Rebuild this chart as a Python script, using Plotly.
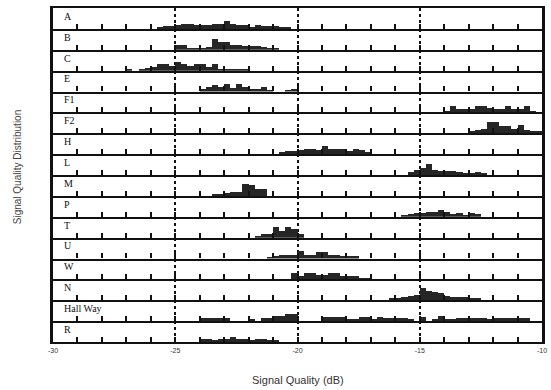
import plotly.graph_objects as go
from plotly.subplots import make_subplots

# ---------------- data ----------------
ROW_LABELS = ["A", "B", "C", "E", "F1", "F2", "H", "L", "M", "P",
              "T", "U", "W", "N", "Hall Way", "R"]
BIN_WIDTH = 0.25  # dB
X_TICKS = [-30, -25, -20, -15, -10]
X_TICK_TEXT = ["-30", "-25", "-20", "-15", "-10"]

# first bin edge (dB) for each row
BIN_START = [-25.75, -25.0, -27.0, -24.0, -14.0, -13.0, -20.75, -15.5,
             -23.5, -15.75, -21.75, -21.25, -20.25, -16.25, -24.0, -24.0]

A_COUNTS = [1, 2, 2, 3, 4, 4, 3, 3, 3, 4, 4, 6, 4, 3, 3, 1, 3, 2, 2, 2, 1, 1]
B_COUNTS = [4, 4, 1, 1, 1, 2, 8, 6, 6, 4, 4, 3, 3, 3, 2, 1, 1]
C_COUNTS = [1, 0, 1, 2, 3, 5, 5, 4, 7, 5, 4, 5, 5, 3, 5, 1, 1, 1, 1, 1]
E_COUNTS = [2, 4, 5, 4, 6, 3, 6, 4, 2, 2, 4, 1, 0, 0, 1, 2]
F1_COUNTS = [1, 5, 3, 3, 3, 5, 5, 4, 3, 3, 5, 3, 3, 5, 1]
F2_COUNTS = [1, 2, 3, 8, 8, 5, 5, 3, 6, 2, 1, 1]
H_COUNTS = [1, 2, 2, 3, 4, 4, 3, 6, 4, 4, 4, 2, 4, 3, 1]
L_COUNTS = [2, 4, 5, 8, 4, 3, 3, 3, 2, 1, 1, 2, 1]
M_COUNTS = [1, 1, 2, 3, 3, 9, 8, 5, 5]
P_COUNTS = [1, 2, 3, 3, 4, 4, 5, 4, 2, 3, 1, 3, 2]
T_COUNTS = [1, 3, 3, 8, 5, 8, 7, 3]
U_COUNTS = [1, 2, 3, 3, 3, 6, 3, 3, 5, 5, 3, 3, 2, 2, 2]
W_COUNTS = [5, 3, 5, 5, 4, 4, 5, 5, 3, 3, 3, 1, 1]
N_COUNTS = [1, 1, 2, 3, 4, 9, 7, 6, 5, 3, 2, 2, 2, 1, 1]
HALLWAY_COUNTS = [2, 2, 2, 2, 2, 0, 0, 0, 1, 0, 2, 2, 4, 4, 5, 5,
                  0, 0, 0, 0, 3, 3, 3, 3, 1, 1, 3, 3, 1, 3, 2, 2,
                  2, 2, 1, 0, 3, 0, 1, 4, 1, 1, 2, 2, 2, 2, 2, 1,
                  2, 2, 2, 2, 2, 2]
R_COUNTS = [2, 2, 1, 2, 2, 4, 2, 2, 1, 2, 2, 1, 1]

ROW_COUNTS = [A_COUNTS, B_COUNTS, C_COUNTS, E_COUNTS, F1_COUNTS, F2_COUNTS,
              H_COUNTS, L_COUNTS, M_COUNTS, P_COUNTS, T_COUNTS, U_COUNTS,
              W_COUNTS, N_COUNTS, HALLWAY_COUNTS, R_COUNTS]

# ---------------- figure ----------------
INK = "#111111"
BAR_COLOR = "#262626"
n_rows = len(ROW_LABELS)

fig = make_subplots(rows=n_rows, cols=1, shared_xaxes=True, vertical_spacing=0)

for i, (label, start, counts) in enumerate(zip(ROW_LABELS, BIN_START, ROW_COUNTS)):
    xs = [start + BIN_WIDTH * (k + 0.5) for k in range(len(counts))]
    fig.add_trace(
        go.Bar(x=xs, y=counts, width=BIN_WIDTH,
               marker=dict(color=BAR_COLOR, line=dict(width=0)),
               showlegend=False, hoverinfo="skip"),
        row=i + 1, col=1)
    suffix = "" if i == 0 else str(i + 1)
    fig.add_annotation(
        text=label, xref=f"x{suffix} domain", yref=f"y{suffix} domain",
        x=0.018, y=0.6, xanchor="left", yanchor="middle", showarrow=False,
        font=dict(family="Liberation Serif", size=10, color=INK))

fig.update_xaxes(
    range=[-30, -10], tickmode="array", tickvals=X_TICKS, ticktext=X_TICK_TEXT,
    showgrid=True, gridcolor=INK, griddash="dot", gridwidth=2,
    showline=True, linecolor=INK, linewidth=2.2, mirror=False,
    ticks="inside", ticklen=5, tickwidth=2, tickcolor=INK,
    minor=dict(dtick=1, tick0=-30, ticks="inside", ticklen=5, tickwidth=2,
               tickcolor=INK, showgrid=False),
    showticklabels=False, zeroline=False, fixedrange=True)
fig.update_xaxes(mirror=True, row=1, col=1)
fig.update_xaxes(showticklabels=True,
                 tickfont=dict(family="Liberation Sans", size=7, color="#333"),
                 row=n_rows, col=1)
fig.update_yaxes(
    range=[0, 16], showticklabels=False, showgrid=False, zeroline=False,
    showline=True, linecolor=INK, linewidth=2.5, mirror=True, ticks="",
    fixedrange=True)

fig.add_annotation(text="Signal Quality (dB)", xref="paper", yref="paper",
                   x=0.5, y=-0.114, xanchor="center", yanchor="middle",
                   showarrow=False,
                   font=dict(family="Liberation Sans", size=11, color="#333"))
fig.add_annotation(text="Signal Quality Distribution", xref="paper", yref="paper",
                   x=-0.071, y=0.524, xanchor="center", yanchor="middle",
                   textangle=-90, showarrow=False,
                   font=dict(family="Liberation Sans", size=10, color="#444"))

fig.update_layout(
    width=551, height=390,
    margin=dict(l=53, r=4, t=8, b=48),
    paper_bgcolor="white", plot_bgcolor="white",
    bargap=0, showlegend=False)

fig.write_html("out.html")
